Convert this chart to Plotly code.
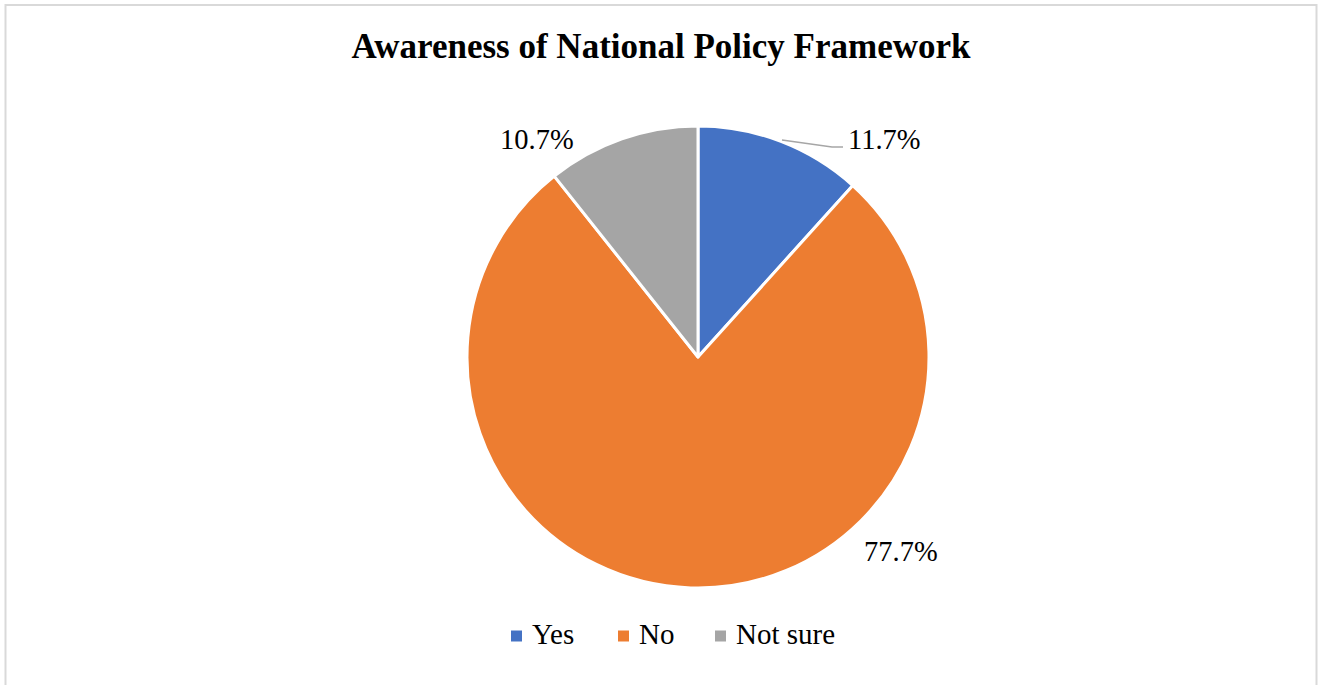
import plotly.graph_objects as go

# Survey responses
categories = ["Yes", "No", "Not sure"]
shares = [11.7, 77.7, 10.7]
colors = ["#4472C4", "#ED7D31", "#A5A5A5"]

W, H = 1325, 685
cx, cy, r = 698, 357, 231  # pie centre and radius in pixels


def px(x):
    return x / W


def py(y):
    return 1 - y / H


serif = "Liberation Serif, Times New Roman, serif"

fig = go.Figure(
    go.Pie(
        labels=categories,
        values=shares,
        sort=False,
        direction="clockwise",
        rotation=0,
        marker=dict(colors=colors, line=dict(color="white", width=3)),
        textinfo="none",
        hoverinfo="label+value",
        showlegend=False,
        domain=dict(x=[px(cx - r), px(cx + r)], y=[py(cy + r), py(cy - r)]),
    )
)

# Data labels placed around the pie (Yes, No, Not sure)
label_pos = [(884, 140), (901, 551), (537, 140)]
annotations = [
    dict(
        x=px(x), y=py(y), xref="paper", yref="paper",
        text=f"{v:.1f}%", showarrow=False,
        font=dict(family=serif, size=28.5, color="black"),
        xanchor="center", yanchor="middle",
    )
    for (x, y), v in zip(label_pos, shares)
]

# Leader line for the small "Yes" slice
shapes = [
    dict(type="path", xref="paper", yref="paper",
         path=f"M {px(782)},{py(140)} L {px(832)},{py(147)} L {px(843)},{py(147)}",
         line=dict(color="#A6A6A6", width=1.5)),
    # chart frame
    dict(type="rect", xref="paper", yref="paper",
         x0=px(5.5), x1=px(1316.5), y0=py(700), y1=py(5),
         line=dict(color="#D9D9D9", width=2), fillcolor="rgba(0,0,0,0)", layer="below"),
]

# Legend along the bottom: colour key squares followed by the category names
legend_x = [511, 618, 715]
legend_y = 636
sq = 11
for x, name, col in zip(legend_x, categories, colors):
    shapes.append(dict(
        type="rect", xref="paper", yref="paper",
        x0=px(x), x1=px(x + sq), y0=py(legend_y + sq / 2), y1=py(legend_y - sq / 2),
        fillcolor=col, line=dict(width=0),
    ))
    annotations.append(dict(
        x=px(x + sq + 8), y=py(634), xref="paper", yref="paper",
        text=name, showarrow=False,
        font=dict(family=serif, size=29, color="black"),
        xanchor="left", yanchor="middle",
    ))

fig.update_layout(
    width=W, height=H,
    margin=dict(l=0, r=0, t=0, b=0),
    paper_bgcolor="white",
    plot_bgcolor="white",
    title=dict(
        text="<b>Awareness of National Policy Framework</b>",
        x=px(661), xanchor="center", y=py(46), yanchor="middle",
        font=dict(family=serif, size=35, color="black"),
    ),
    annotations=annotations,
    shapes=shapes,
)

fig.write_html("out.html")
